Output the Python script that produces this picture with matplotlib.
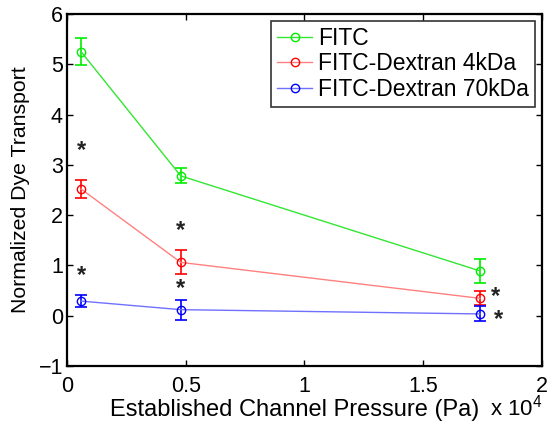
import matplotlib
matplotlib.use("Agg")
import matplotlib.pyplot as plt

plt.rcParams['font.family'] = ['Liberation Sans', 'DejaVu Sans']
plt.rcParams['mathtext.fontset'] = 'custom'
plt.rcParams['mathtext.rm'] = 'Liberation Sans'
plt.rcParams['mathtext.it'] = 'Liberation Sans'

# Channel pressure (Pa) for the three conditions
pressure = [590, 4790, 17390]

series_names = ["FITC", "FITC-Dextran 4kDa", "FITC-Dextran 70kDa"]
fitc = [5.25, 2.78, 0.89]
fitc_err = [0.27, 0.15, 0.23]
dex4 = [2.52, 1.06, 0.345]
dex4_err = [0.175, 0.24, 0.14]
dex70 = [0.29, 0.12, 0.035]
dex70_err = [0.115, 0.20, 0.15]

# Significance markers (x in Pa, y in normalized units)
star_x = [590, 4790, 4790, 590, 18050, 18150]
star_y = [3.28, 1.69, 0.545, 0.79, 0.39, -0.07]

xticks = [0, 5000, 10000, 15000, 20000]
xtick_labels = ["0", "0.5", "1", "1.5", "2"]
yticks = [-1, 0, 1, 2, 3, 4, 5, 6]

fig = plt.figure(figsize=(5.57, 4.23), dpi=100)
ax = fig.add_axes([0.1203, 0.1348, 0.8527, 0.8322])

styles = [
    (fitc, fitc_err, '#00ee00', '#33e633'),
    (dex4, dex4_err, '#ff0000', '#ff8080'),
    (dex70, dex70_err, '#0000ff', '#7070ff'),
]
for (vals, errs, c, lc), name in zip(styles, series_names):
    ax.errorbar(pressure, vals, yerr=errs, fmt='none', ecolor=c,
                elinewidth=1.2, capsize=4, capthick=1.2, zorder=2)
    ax.plot(pressure, vals, '-o', color=lc, lw=1.0, mfc='none', mec=c,
            mew=1.0, ms=6, label=name, zorder=3)

for sx, sy in zip(star_x, star_y):
    ax.text(sx, sy, "*", ha='center', va='center', fontsize=17,
            fontweight='bold', color='#222222')

ax.set_xlim(0, 20000)
ax.set_ylim(-1, 6)
ax.set_xticks(xticks)
ax.set_xticklabels(xtick_labels)
ax.set_yticks(yticks)
ax.tick_params(direction='in', top=True, right=True, labelsize=15.5,
               length=4, width=1)
ax.tick_params(axis='x', pad=7)
ax.tick_params(axis='y', pad=3)
for s in ax.spines.values():
    s.set_linewidth(1.6)

ax.set_xlabel("Established Channel Pressure (Pa)", fontsize=17, va='center')
ax.xaxis.set_label_coords(0.48, -0.125)
ax.set_ylabel("Normalized Dye Transport", fontsize=15.3, va='center')
ax.yaxis.set_label_coords(-0.097, 0.5)
fig.text(0.880, 0.005, r"x 10$^{4}$", fontsize=16, ha='left', va='bottom')

leg = ax.legend(loc='upper right', fontsize=16.5, frameon=True, fancybox=False,
                edgecolor='black', handlelength=1.55, handletextpad=0.27,
                borderpad=0.25, labelspacing=0.12, borderaxespad=0.3)
leg.get_frame().set_linewidth(1.2)

fig.savefig("out.png", dpi=100)
